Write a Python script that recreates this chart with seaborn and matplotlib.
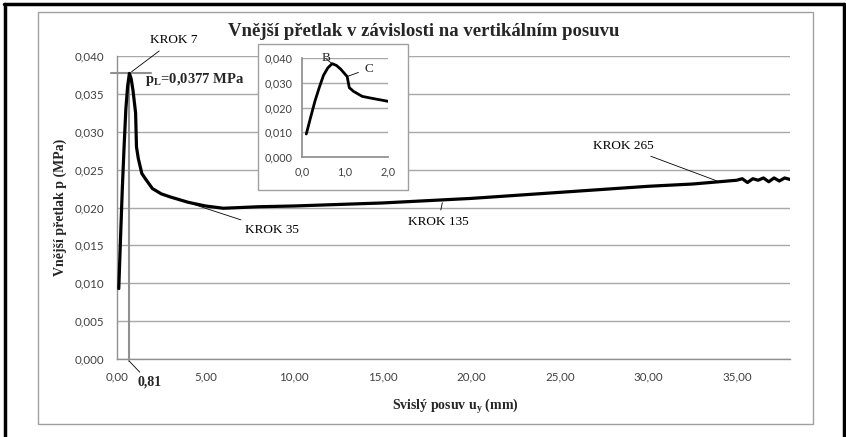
import matplotlib
matplotlib.use("Agg")
import matplotlib.pyplot as plt
import seaborn as sns
import pandas as pd
from matplotlib.ticker import FuncFormatter, MultipleLocator
from matplotlib.patches import Rectangle
from matplotlib.lines import Line2D

# ---- data ----
ux = [0.1, 0.2, 0.3, 0.4, 0.5, 0.6, 0.7, 0.8, 0.9, 1.0, 1.05, 1.1, 1.2, 1.4, 1.6, 2.0,
      2.5, 3.0, 4.0, 5.0, 6.0, 7.0, 8.0, 10.0, 12.5, 15.0, 17.5, 20.0, 22.5, 25.0,
      27.5, 30.0, 32.5, 34.0, 35.0, 35.3, 35.6, 35.9, 36.2, 36.5, 36.8, 37.1, 37.4, 37.7, 38.0]
p = [0.0093, 0.0160, 0.0225, 0.0280, 0.0330, 0.0360, 0.0377, 0.0370, 0.0355, 0.0335, 0.0325,
     0.0280, 0.0265, 0.0245, 0.0238, 0.0225,
     0.0218, 0.0214, 0.0207, 0.0202, 0.0199, 0.0200, 0.0201, 0.0202, 0.0204, 0.0206, 0.0209,
     0.0212, 0.0216, 0.0220, 0.0224, 0.0228, 0.0231, 0.0234, 0.0236, 0.0238, 0.0233, 0.0238,
     0.0236, 0.0239, 0.0234, 0.0239, 0.0235, 0.0239, 0.0237]
peak_x = 0.7
peak_p = 0.0377
peak_label = "0,81"
krok_labels = ["KROK 7", "KROK 35", "KROK 135", "KROK 265"]
krok_points = [(0.7, 0.0377), (2.9, 0.0215), (18.4, 0.0210), (34.0, 0.0234)]
inset_labels = ["B", "C"]
inset_points = [(0.7, 0.0377), (1.05, 0.0325)]

df = pd.DataFrame({"ux": ux, "p": p})

sns.set_theme(style="white")
plt.rcParams["font.family"] = ["Liberation Serif", "DejaVu Serif"]
plt.rcParams["mathtext.fontset"] = "custom"
plt.rcParams["mathtext.rm"] = "Liberation Serif:bold"
plt.rcParams["mathtext.it"] = "Liberation Serif:bold"
plt.rcParams["mathtext.bf"] = "Liberation Serif:bold"

W, H = 846, 437
fig = plt.figure(figsize=(W / 100, H / 100), dpi=100)
fig.patch.set_facecolor("white")

def fx(px):
    return px / W

def fy(py):
    return 1 - py / H

# outer black frame (left, top, right)
for xs, ys in [([fx(4.5), fx(4.5)], [fy(4), 0]), ([fx(4), fx(844)], [fy(4), fy(4)]),
               ([fx(844), fx(844)], [fy(4), 0])]:
    fig.add_artist(Line2D(xs, ys, color="black", lw=2.5, transform=fig.transFigure))
# inner gray chart frame
fig.add_artist(Rectangle((fx(38), fy(424)), fx(813) - fx(38), fy(12) - fy(424),
                         transform=fig.transFigure, fill=False, ec="#a0a0a0", lw=1.0))

tick_font = ["Lato", "DejaVu Sans"]
tick_color = "#404040"
comma = lambda nd: FuncFormatter(lambda v, pos: f"{v:.{nd}f}".replace(".", ","))

# ---- main axes ----
ax = fig.add_axes([fx(117), fy(359), fx(790) - fx(117), fy(56) - fy(359)])
ax.set_xlim(0, 38)
ax.set_ylim(0, 0.04)
ax.yaxis.set_major_locator(MultipleLocator(0.005))
ax.xaxis.set_major_locator(MultipleLocator(5))
ax.yaxis.set_major_formatter(comma(3))
ax.xaxis.set_major_formatter(comma(2))
ax.grid(axis="y", color="#a8a8a8", lw=1.0)
ax.set_axisbelow(True)
for s in ["top", "right"]:
    ax.spines[s].set_visible(False)
for s in ["left", "bottom"]:
    ax.spines[s].set_color("#909090")
    ax.spines[s].set_linewidth(1.0)
ax.tick_params(axis="both", direction="out", length=4, width=1, color="#909090",
               labelsize=8.3, labelcolor=tick_color, pad=5)
for lab in ax.get_xticklabels() + ax.get_yticklabels():
    lab.set_family(tick_font)

# peak guide lines
ax.plot([peak_x, peak_x], [-0.0003, peak_p], color="#909090", lw=1.5, clip_on=False, zorder=2)
ax.plot([-0.35, 1.9], [peak_p, peak_p], color="#909090", lw=1.5, clip_on=False, zorder=2)

sns.lineplot(data=df, x="ux", y="p", ax=ax, color="black", lw=2.3, sort=False, zorder=3)
ax.set_xlabel("")
ax.set_ylabel("")

# leaders and labels (text positions in reference pixels, measured from top)
lead = dict(color="black", lw=0.6)
ann_font = dict(fontsize=9.5, family=["Liberation Serif"], color="black")
text_pos = [(150, 40), (245, 230), (408, 222), (593, 146)]
for lab, pt, (tx, ty) in zip(krok_labels, krok_points, text_pos):
    ax.annotate(lab, xy=pt, xytext=(tx, H - ty), textcoords="figure pixels",
                ha="left", va="center", arrowprops=dict(arrowstyle="-", **lead), **ann_font)

# 0,81 label
ax.annotate(peak_label, xy=(peak_x, -0.0003), xytext=(137, H - 382), textcoords="figure pixels",
            ha="left", va="center", fontsize=10, fontweight="bold", family=["Liberation Serif"],
            arrowprops=dict(arrowstyle="-", shrinkA=0, shrinkB=0, **lead), annotation_clip=False)

fig.text(fx(145), fy(80), r"$\mathrm{p_L}$=0,0377 MPa", fontsize=10.5, fontweight="bold",
         ha="left", va="center", family=["Liberation Serif"])

fig.text(fx(424), fy(31), "Vnější přetlak v závislosti na vertikálním posuvu", fontsize=13.5,
         fontweight="bold", ha="center", va="center", family=["Liberation Serif"])
fig.text(fx(455), fy(407), r"Svislý posuv u$_\mathrm{y}$ (mm)", fontsize=10, fontweight="bold",
         ha="center", va="center", family=["Liberation Serif"])
fig.text(fx(60), fy(207), "Vnější přetlak p (MPa)", fontsize=10, fontweight="bold",
         ha="center", va="center", rotation=90, family=["Liberation Serif"])

# ---- inset ----
fig.add_artist(Rectangle((fx(258), fy(190)), fx(408) - fx(258), fy(44) - fy(190),
                         transform=fig.transFigure, fc="white", ec="#a0a0a0", lw=1.0, zorder=5))
axi = fig.add_axes([fx(302), fy(157), fx(388) - fx(302), fy(58) - fy(157)], zorder=6)
axi.patch.set_alpha(0)
axi.set_xlim(0, 2)
axi.set_ylim(0, 0.04)
axi.xaxis.set_major_locator(MultipleLocator(1))
axi.yaxis.set_major_locator(MultipleLocator(0.01))
axi.xaxis.set_major_formatter(comma(1))
axi.yaxis.set_major_formatter(comma(3))
axi.grid(axis="y", color="#a8a8a8", lw=1.0)
axi.set_axisbelow(True)
for s in ["top", "right"]:
    axi.spines[s].set_visible(False)
for s in ["left", "bottom"]:
    axi.spines[s].set_color("#909090")
axi.tick_params(axis="both", direction="out", length=3, width=1, color="#909090",
                labelsize=7.8, labelcolor=tick_color, pad=4)
for lab in axi.get_xticklabels() + axi.get_yticklabels():
    lab.set_family(tick_font)
sns.lineplot(data=df[df.ux <= 2.0], x="ux", y="p", ax=axi, color="black", lw=2.0, sort=False)
axi.set_xlabel("")
axi.set_ylabel("")
axi.annotate(inset_labels[0], xy=inset_points[0], xytext=(0.45, 0.0398), ha="left", va="center",
             fontsize=9.5, family=["Liberation Serif"],
             arrowprops=dict(arrowstyle="-", shrinkA=0, shrinkB=0, **lead), annotation_clip=False)
axi.annotate(inset_labels[1], xy=inset_points[1], xytext=(1.45, 0.0357), ha="left", va="center",
             fontsize=9.5, family=["Liberation Serif"],
             arrowprops=dict(arrowstyle="-", shrinkA=2, shrinkB=0, **lead), annotation_clip=False)

fig.savefig("out.png", dpi=100, facecolor="white")
